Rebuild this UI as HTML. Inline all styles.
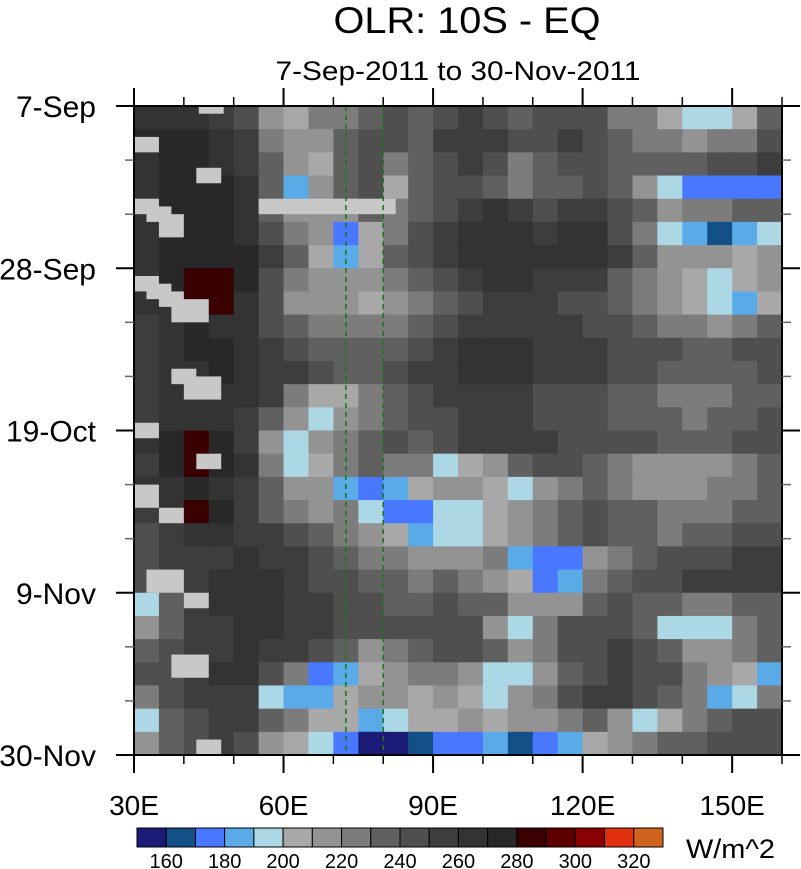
<!DOCTYPE html>
<html><head><meta charset="utf-8">
<style>
html,body{margin:0;padding:0;background:#fff;}
svg{display:block;font-family:"Liberation Sans",Arial,sans-serif;}
</style></head>
<body>
<svg id="chart" width="801" height="869" viewBox="0 0 801 869" xmlns="http://www.w3.org/2000/svg">
<text x="467" y="33" font-size="37" text-anchor="middle" textLength="267" lengthAdjust="spacingAndGlyphs">OLR: 10S - EQ</text>
<text x="458" y="80" font-size="27" text-anchor="middle" textLength="365" lengthAdjust="spacingAndGlyphs">7-Sep-2011 to 30-Nov-2011</text>
<g id="cells"></g>
<g id="missing"></g>
<g id="guides"></g>
<rect x="134" y="106" width="648" height="649" fill="none" stroke="#000" stroke-width="2"/>
<g id="axes"></g>
<g id="cbar"></g>
<text x="686" y="858" font-size="27" textLength="89" lengthAdjust="spacingAndGlyphs">W/m^2</text>
</svg>
<script>
const lonStart = 30, lonStep = 5;
const dayStep = 3;
const levels = [160,170,180,190,200,210,220,230,240,250,260,270,280,290,300,310,320];
const levelColors = ["#1c1c78","#145088","#4878ff","#5aaae8","#acd8e6","#a8a8a8","#939393","#7c7c7c","#606060","#4f4f4f","#3d3d3d","#333333","#282828","#3a0000","#5c0000","#8a0000","#e03010","#d0641e"];
const cbarLabels = [160,180,200,220,240,260,280,300,320];
const xTicks = [30,60,90,120,150];
const xTickLabels = ["30E","60E","90E","120E","150E"];
const yTickDays = [0,21,42,63,84];
const yTickLabels = ["7-Sep","28-Sep","19-Oct","9-Nov","30-Nov"];
const guideLons = [72.5,80];
const olr = [
[262,266,268,255,245,215,200,222,228,232,240,232,245,250,248,238,242,245,240,225,220,205,195,192,205,235],
[270,272,270,262,250,225,215,218,232,240,245,238,252,258,250,240,245,250,248,235,225,225,215,220,228,240],
[265,270,272,268,258,230,210,208,230,245,220,235,245,250,240,228,232,240,245,238,235,232,235,240,245,250],
[268,272,272,270,262,235,182,210,235,245,205,232,245,240,232,225,230,238,240,235,215,190,178,170,175,178],
[262,270,274,270,262,230,212,210,218,230,225,235,245,255,260,255,248,250,255,242,230,218,220,225,232,238],
[266,272,275,272,268,245,220,210,178,200,225,240,250,262,268,262,258,262,262,245,225,195,182,168,180,198],
[262,270,278,275,270,250,230,208,185,205,230,245,255,265,268,265,262,262,262,250,235,215,210,215,205,212],
[265,270,283,288,272,245,225,212,215,212,225,235,248,258,262,260,258,255,250,238,225,215,200,195,205,215],
[262,268,285,280,265,240,218,215,210,208,218,228,235,248,255,252,250,248,245,235,222,210,200,190,185,200],
[255,262,270,268,262,245,232,225,220,222,225,230,240,250,255,258,255,250,245,240,232,225,220,215,225,232],
[258,265,270,270,265,255,245,238,232,230,235,242,252,262,265,262,258,255,250,248,245,240,238,235,240,248],
[255,262,268,270,268,258,250,240,232,238,245,250,258,265,268,262,255,252,250,248,245,238,235,232,238,242],
[255,262,268,268,262,250,225,200,205,222,235,245,250,255,258,252,248,245,242,238,232,225,222,225,230,238],
[258,262,265,262,252,232,212,192,210,225,235,240,245,250,252,250,248,245,242,238,232,230,228,232,238,244],
[262,278,282,270,255,215,195,215,225,232,240,238,245,250,252,255,252,248,245,242,240,238,235,238,242,248],
[258,272,282,275,262,222,190,205,222,230,228,220,195,200,215,230,240,245,238,228,218,212,210,215,222,230],
[262,268,272,268,258,235,215,212,182,178,188,205,210,218,205,190,210,225,232,228,215,210,215,220,225,232],
[255,265,280,270,255,238,225,215,220,195,178,175,195,190,200,215,225,235,240,235,230,225,228,225,232,238],
[248,255,262,262,258,250,240,232,225,218,205,185,190,195,205,215,225,235,240,238,232,228,232,235,240,245],
[245,252,255,258,262,258,250,240,232,228,220,210,215,210,222,185,172,175,212,228,238,242,245,248,252,258],
[240,248,255,262,265,260,255,248,240,235,230,228,230,222,215,200,178,182,220,232,242,248,250,252,255,258],
[195,232,250,260,262,262,255,250,245,240,238,235,240,238,230,218,212,218,232,240,238,232,222,225,230,238],
[215,238,252,258,262,262,258,252,248,245,240,242,245,240,215,195,228,240,245,242,235,195,190,195,225,238],
[238,245,252,258,262,258,250,245,230,215,222,232,240,245,230,215,225,240,248,250,248,230,215,212,222,235],
[240,248,255,262,262,245,225,172,185,205,210,225,225,212,192,195,215,232,245,250,248,240,228,215,205,180],
[225,240,252,258,258,198,185,188,200,210,215,208,210,205,198,212,225,240,250,252,248,235,222,188,195,220],
[190,230,248,255,252,232,220,205,200,188,192,200,208,210,205,212,218,228,235,210,195,200,220,230,240,248],
[215,235,245,255,245,215,200,190,178,158,155,165,172,178,182,165,175,185,200,218,225,230,238,242,245,245]
];
const missingLon0 = [43,30,42.5,55,30,32.5,35,30,32.5,35,37.5,37.5,40,30,42.5,30,35,32.5,40,37.5,42.5];
const missingLon1 = [48,35,47.5,82.5,35,37.5,40,35,37.5,40,45,42.5,47.5,35,47.5,35,40,40,45,45,47.5];
const missingDay0 = [0,4,8,12,12,13,14,22,23,24,25,34,35,41,45,49,52,60,63,71,82];
const missingDay1 = [1,6,10,14,14,15,17,24,25,26,28,36,38,43,47,52,54,63,65,74,84];

const X0=134,X1=782,Y0=106,Y1=755;
const xs = lon => X0 + (lon-30)*(X1-X0)/130;
const ys = day => Y0 + day*(Y1-Y0)/84;
const colorFor = v => { let i=0; while(i<levels.length && v>=levels[i]) i++; return levelColors[i]; };
const NS="http://www.w3.org/2000/svg";
function mk(tag, attrs, parent){ const e=document.createElementNS(NS,tag); for(const k in attrs) e.setAttribute(k,attrs[k]); parent.appendChild(e); return e; }

const cells=document.getElementById('cells');
olr.forEach((row,r)=>{
  row.forEach((v,c)=>{
    const x0=xs(lonStart+c*lonStep), x1=xs(lonStart+(c+1)*lonStep);
    const y0=ys(r*dayStep), y1=ys(Math.min(84,(r+1)*dayStep));
    const el=mk('rect',{x:x0,y:y0,width:x1-x0+0.6,height:y1-y0+0.6,fill:colorFor(v)},cells);
    
    
  });
});
const miss=document.getElementById('missing');
missingLon0.forEach((l0,i)=>{
  const el=mk('rect',{x:xs(l0),y:ys(missingDay0[i]),width:xs(missingLon1[i])-xs(l0),height:ys(missingDay1[i])-ys(missingDay0[i]),fill:"#c8c8c8"},miss);
  
  
});
const guides=document.getElementById('guides');
guideLons.forEach(l=>{
  const el=mk('line',{x1:xs(l),x2:xs(l),y1:Y0,y2:Y1,stroke:"#1a7a1a","stroke-width":1.6,"stroke-dasharray":"5,4"},guides);
  
  
});
const axes=document.getElementById('axes');
xTicks.forEach((l,i)=>{
  const x=xs(l);
  mk('line',{x1:x,x2:x,y1:Y1,y2:Y1+18,stroke:"#000","stroke-width":2},axes);
  mk('line',{x1:x,x2:x,y1:Y0,y2:Y0-18,stroke:"#000","stroke-width":2},axes);
  const t=mk('text',{x:x,y:815,"font-size":28,"text-anchor":"middle"},axes);
  t.textContent=xTickLabels[i];
  
  
});
for(let l=40;l<=160;l+=10){ if(xTicks.includes(l)) continue; const x=xs(l);
  mk('line',{x1:x,x2:x,y1:Y1,y2:Y1+9,stroke:"#000","stroke-width":1.5},axes);
  mk('line',{x1:x,x2:x,y1:Y0,y2:Y0-9,stroke:"#000","stroke-width":1.5},axes);}
yTickDays.forEach((d,i)=>{
  const y=ys(d);
  mk('line',{x1:X0-18,x2:X0,y1:y,y2:y,stroke:"#000","stroke-width":2},axes);
  mk('line',{x1:X1,x2:X1+18,y1:y,y2:y,stroke:"#000","stroke-width":2},axes);
  const t=mk('text',{x:96,y:y+11,"font-size":30,"text-anchor":"end"},axes);
  t.textContent=yTickLabels[i];
  
  
});
for(let d=7;d<84;d+=7){ if(yTickDays.includes(d)) continue; const y=ys(d);
  mk('line',{x1:X0-9,x2:X0,y1:y,y2:y,stroke:"#666","stroke-width":1.5},axes);
  mk('line',{x1:X1,x2:X1+9,y1:y,y2:y,stroke:"#666","stroke-width":1.5},axes);}
const cbar=document.getElementById('cbar');
const CB0=137,CB1=663,bw=(CB1-CB0)/levelColors.length;
levelColors.forEach((c,i)=>{
  const el=mk('rect',{x:CB0+i*bw,y:828,width:bw,height:19,fill:c,stroke:"#000","stroke-width":1},cbar);
  
  
});
cbarLabels.forEach(v=>{
  const k=levels.indexOf(v)+1;
  const t=mk('text',{x:CB0+k*bw,y:868,"font-size":20,"text-anchor":"middle"},cbar);
  t.textContent=v;
  
  
});
</script>
</body></html>
